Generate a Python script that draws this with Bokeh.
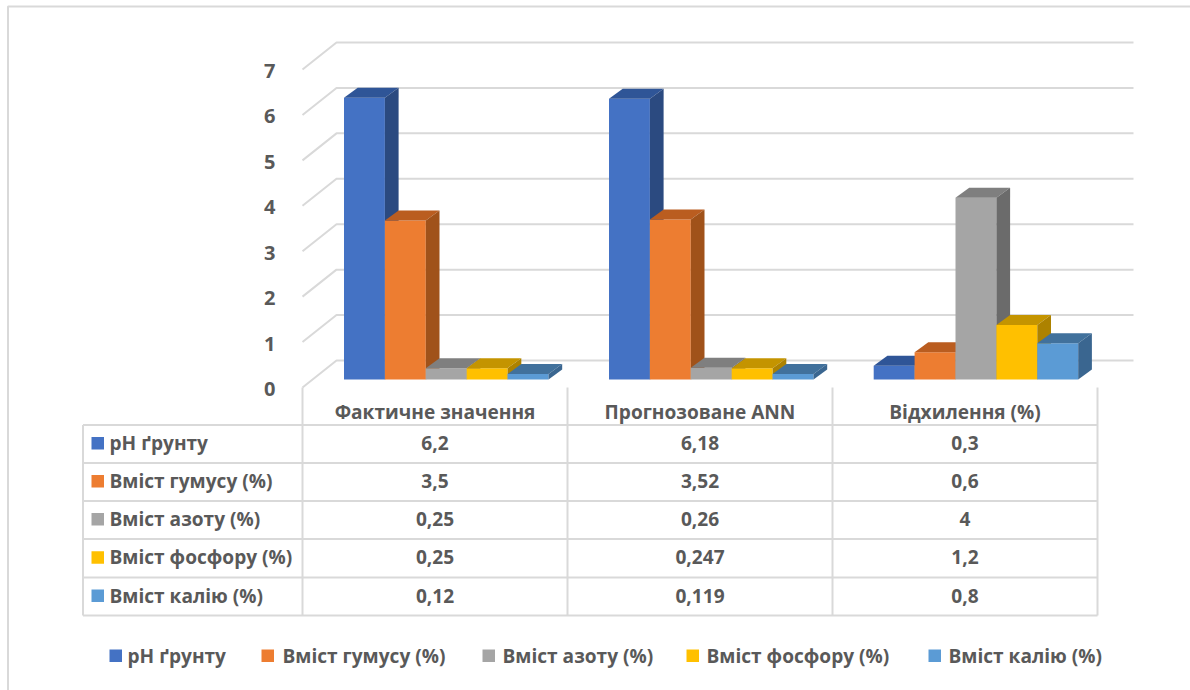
from bokeh.core.properties import value
from bokeh.embed import file_html
from bokeh.models import ColumnDataSource, FixedTicker, LinearAxis, Range1d
from bokeh.plotting import figure
from bokeh.resources import INLINE

# Chart data
categories = ["Фактичне значення", "Прогнозоване ANN", "Відхилення (%)"]
series_names = ["рН ґрунту", "Вміст гумусу (%)", "Вміст азоту (%)", "Вміст фосфору (%)", "Вміст калію (%)"]
ph_values = [6.2, 6.18, 0.3]
humus_values = [3.5, 3.52, 0.6]
nitrogen_values = [0.25, 0.26, 4]
phosphorus_values = [0.25, 0.247, 1.2]
potassium_values = [0.12, 0.119, 0.8]
y_ticks = [0, 1, 2, 3, 4, 5, 6, 7]

# Face colours of each series: front, top, side
front_colors = ["#4472C4", "#ED7D31", "#A5A5A5", "#FFC000", "#5B9BD5"]
top_colors = ["#2F5597", "#BA5D20", "#7F7F7F", "#C49400", "#41719C"]
side_colors = ["#2B4A80", "#A0521A", "#6B6B6B", "#AD8200", "#3A6690"]

W, H = 1190, 690
FONT = value("Open Sans")
TEXT = "#595959"
RULE = "#D9D9D9"
TEXT_SIZE = "19.1px"

# Layout of the pseudo-3D box and the data table, in page pixels
PPU = 45.43              # pixels per value unit
BASE = 379               # baseline of the bars
FRONT = 387              # zero on the front edge of the floor
BACK = 360               # zero on the back wall
LABEL_SHIFT = 1.5        # tick labels sit slightly under the gridline ends
WALL_L, WALL_R, FLOOR_L = 336, 1133, 302
BAR_W, DEPTH_X, DEPTH_Y = 40.9, 13.7, 10
GROUP_X = [343.5, 608.5, 873.2]
COLS = [302, 567, 832, 1097]
ROWS = [424.5, 462.5, 500.5, 538.5, 577, 615]
TABLE_L = 82.5

p = figure(
    width=W, height=H, output_backend="svg", toolbar_location=None,
    x_range=Range1d(0, W), y_range=Range1d((BASE - H) / PPU, BASE / PPU),
    x_axis_type=None, y_axis_type=None,
    min_border=0, min_border_left=0, min_border_right=0, min_border_top=0, min_border_bottom=0,
    outline_line_color=None, background_fill_color="white", border_fill_color="white",
)
p.grid.visible = False
p.extra_y_ranges = {
    "page": Range1d(H, 0),
    "front": Range1d((FRONT + LABEL_SHIFT - H) / PPU, (FRONT + LABEL_SHIFT) / PPU),
}

# Page border on the left and top only
p.line([7.5, 7.5, W], [H, 6, 6], y_range_name="page", line_color=RULE, line_width=2)

# Wall gridlines with their diagonal run across the floor side
front_off = (BASE - FRONT) / PPU
back_off = (BASE - BACK) / PPU
for t in y_ticks:
    p.line([FLOOR_L, WALL_L, WALL_R], [t + front_off, t + back_off, t + back_off],
           line_color=RULE, line_width=2)

# Value axis on the front-left edge
axis = LinearAxis(
    y_range_name="front", ticker=FixedTicker(ticks=y_ticks),
    axis_line_color=None, major_tick_line_color=None, minor_tick_line_color=None,
    major_label_text_font="Open Sans", major_label_text_font_style="bold",
    major_label_text_font_size="20px", major_label_text_color=TEXT,
    major_label_standoff=21, fixed_location=FLOOR_L,
)
p.add_layout(axis, "left")

# Bars: front, top and side faces per series, drawn left to right
all_values = [ph_values, humus_values, nitrogen_values, phosphorus_values, potassium_values]
dy = DEPTH_Y / PPU
for g in range(len(categories)):
    for s, vals in enumerate(all_values):
        v = vals[g]
        x0 = GROUP_X[g] + s * BAR_W
        x1 = x0 + BAR_W
        faces = ColumnDataSource(dict(
            xs=[[x0, x1, x1, x0],
                [x0, x1, x1 + DEPTH_X, x0 + DEPTH_X],
                [x1, x1 + DEPTH_X, x1 + DEPTH_X, x1]],
            ys=[[0, 0, v, v],
                [v, v, v + dy, v + dy],
                [0, dy, v + dy, v]],
            color=[front_colors[s], top_colors[s], side_colors[s]],
        ))
        p.patches("xs", "ys", source=faces, fill_color="color", line_color=None)

# Data table rules
for y in ROWS:
    p.line([TABLE_L, COLS[-1]], [y, y], y_range_name="page", line_color=RULE, line_width=2)
p.line([TABLE_L, TABLE_L], [ROWS[0], ROWS[-1]], y_range_name="page", line_color=RULE, line_width=2)
for x in COLS:
    p.line([x, x], [FRONT, ROWS[-1]], y_range_name="page", line_color=RULE, line_width=2)


def put_text(x, y, txt, align="center"):
    p.text([x], [y], text=[txt], y_range_name="page", text_font=FONT, text_font_style="bold",
           text_font_size=TEXT_SIZE, text_color=TEXT, text_align=align, text_baseline="middle")


def swatch(x, y, color):
    p.quad(left=[x], right=[x + 12.5], top=[y], bottom=[y + 12.5], y_range_name="page",
           fill_color=color, line_color=None)


# Table header and body
for c, name in enumerate(categories):
    put_text((COLS[c] + COLS[c + 1]) / 2, 411.5, name)
for r, (name, vals) in enumerate(zip(series_names, all_values)):
    cy = (ROWS[r] + ROWS[r + 1]) / 2 - 1
    swatch(91, cy - 6, front_colors[r])
    put_text(109, cy, name, "left")
    for c, v in enumerate(vals):
        put_text((COLS[c] + COLS[c + 1]) / 2, cy, f"{v:g}".replace(".", ","))

# Legend row
legend_swatch_x = [109, 261, 482, 686, 928]
legend_text_x = [127, 282, 502, 706, 948]
for name, sx, tx, color in zip(series_names, legend_swatch_x, legend_text_x, front_colors):
    swatch(sx, 649, color)
    put_text(tx, 655, name, "left")

open("out.html", "w").write(file_html(p, INLINE))
